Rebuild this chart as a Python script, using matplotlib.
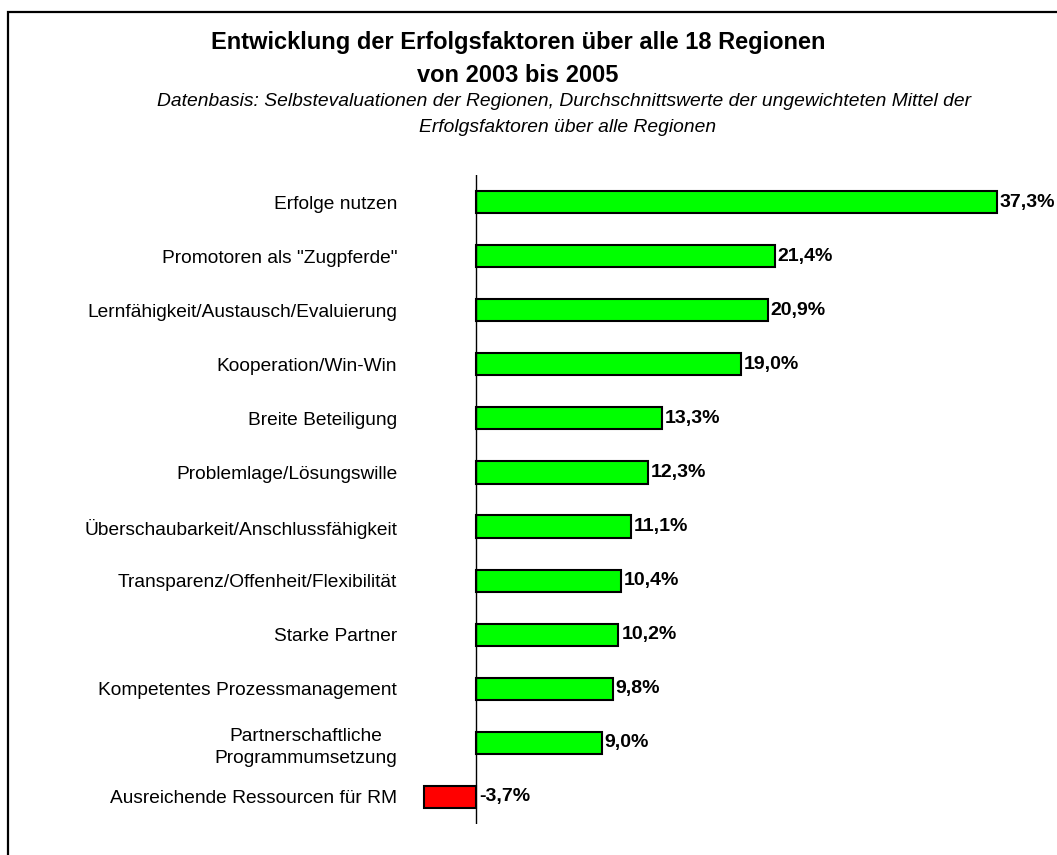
import matplotlib.pyplot as plt
from matplotlib.patches import Rectangle

plt.rcParams['font.family'] = ['Liberation Sans', 'DejaVu Sans']

# Daten (von oben nach unten)
faktoren = [
    "Erfolge nutzen",
    'Promotoren als "Zugpferde"',
    "Lernfähigkeit/Austausch/Evaluierung",
    "Kooperation/Win-Win",
    "Breite Beteiligung",
    "Problemlage/Lösungswille",
    "Überschaubarkeit/Anschlussfähigkeit",
    "Transparenz/Offenheit/Flexibilität",
    "Starke Partner",
    "Kompetentes Prozessmanagement",
    "Partnerschaftliche\nProgrammumsetzung",
    "Ausreichende Ressourcen für RM",
]
werte = [37.3, 21.4, 20.9, 19.0, 13.3, 12.3, 11.1, 10.4, 10.2, 9.8, 9.0, -3.7]

W, H = 1057, 855
fig = plt.figure(figsize=(W / 100, H / 100), dpi=100)

# Rahmen (rechts und unten abgeschnitten)
fig.patches.append(Rectangle((8 / W, -0.2), 1.2, 1.2 - 12 / H, transform=fig.transFigure,
                             fill=False, edgecolor='black', linewidth=1.6))

ax = fig.add_axes([400 / W, 1 - 824 / H, 600 / W, 649 / H])
ax.patch.set_alpha(0)

y = list(range(len(faktoren)))
farben = ['#00ff00' if v >= 0 else '#ff0000' for v in werte]
ax.barh(y, werte, height=0.41, color=farben, edgecolor='black', linewidth=1.5)

ax.set_ylim(len(faktoren) - 0.5, -0.5)
ax.set_xlim(-5.44, 37.51)
ax.axvline(0, color='black', linewidth=1)

for s in ax.spines.values():
    s.set_visible(False)
ax.set_xticks([])
ax.set_yticks(y)
ax.set_yticklabels(faktoren, fontsize=13.8, ha='right', multialignment='center',
                   linespacing=1.4)
ax.tick_params(axis='y', length=0, pad=2)

for yi, v in zip(y, werte):
    x0 = max(v, 0)
    txt = f"{v:.1f}%".replace('.', ',')
    ax.annotate(txt, (x0, yi), xytext=(2, 0), textcoords='offset points',
                va='center', ha='left', fontsize=14, fontweight='bold')

fig.text(518 / W, 1 - 43 / H, "Entwicklung der Erfolgsfaktoren über alle 18 Regionen",
         ha='center', va='center', fontsize=17, fontweight='bold')
fig.text(518 / W, 1 - 75 / H, "von 2003 bis 2005",
         ha='center', va='center', fontsize=17, fontweight='bold')
fig.text(564 / W, 1 - 102 / H,
         "Datenbasis: Selbstevaluationen der Regionen, Durchschnittswerte der ungewichteten Mittel der",
         ha='center', va='center', fontsize=13.9, style='italic')
fig.text(568 / W, 1 - 128 / H, "Erfolgsfaktoren über alle Regionen",
         ha='center', va='center', fontsize=13.9, style='italic')

fig.savefig('out.png', dpi=100)
